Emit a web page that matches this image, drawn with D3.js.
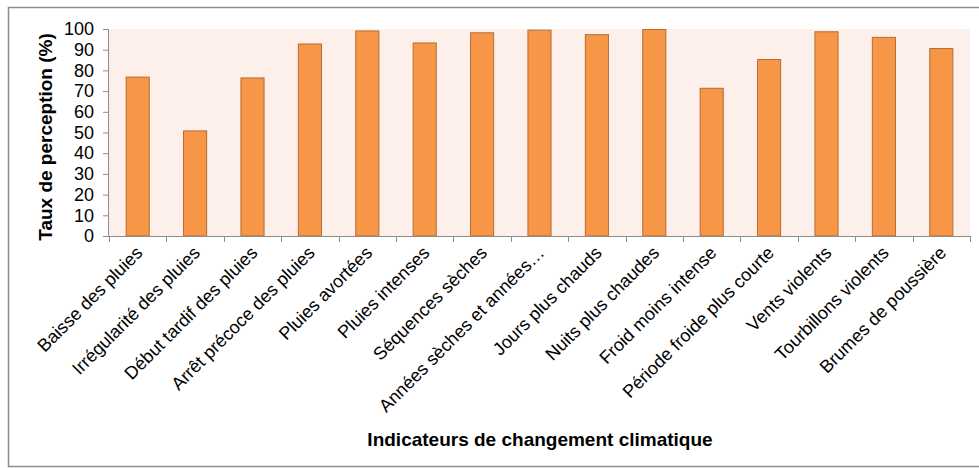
<!DOCTYPE html>
<html>
<head>
<meta charset="utf-8">
<script src="https://cdn.jsdelivr.net/npm/d3@7"></script>
<style>
  html, body { margin: 0; padding: 0; background: #fff; }
  svg { display: block; font-family: "Liberation Sans", Arial, sans-serif; }
</style>
</head>
<body>
<svg id="chart" width="979" height="468"></svg>
<script>
const categories = [
  "Baisse des pluies", "Irrégularité des pluies", "Début tardif des pluies",
  "Arrêt précoce des pluies", "Pluies avortées", "Pluies intenses",
  "Séquences sèches", "Années sèches et années…", "Jours plus chauds",
  "Nuits plus chaudes", "Froid moins intense", "Période froide plus courte",
  "Vents violents", "Tourbillons violents", "Brumes de poussière"
];
const values = [77, 51, 76.6, 93, 99.3, 93.5, 98.4, 99.7, 97.5, 100, 71.6, 85.5, 98.9, 96.2, 90.8];
const yTicks = [0, 10, 20, 30, 40, 50, 60, 70, 80, 90, 100];
const yTitle = "Taux de perception (%)";
const xTitle = "Indicateurs de changement climatique";

const svg = d3.select("#chart");
const W = 979, H = 468;
const m = { left: 109, right: 9, top: 29, bottom: 232 };
const plotW = W - m.left - m.right;
const plotH = H - m.top - m.bottom;

// outer border
svg.append("rect")
  .attr("x", 8.5).attr("y", 7.5)
  .attr("width", 978).attr("height", 459)
  .attr("fill", "none").attr("stroke", "#8c8c8c").attr("stroke-width", 1.5);

const g = svg.append("g").attr("transform", `translate(${m.left},${m.top})`);

const x = d3.scaleBand().domain(categories).range([0, plotW]).paddingInner(0.58).paddingOuter(0.29);
const y = d3.scaleLinear().domain([0, 100]).range([plotH, 0]);

// plot background
g.append("rect").attr("x", 0).attr("y", 0).attr("width", plotW).attr("height", plotH)
  .attr("fill", "#fdefe9");

// bars
g.selectAll("rect.bar").data(values).enter().append("rect")
  .attr("class", "bar")
  .attr("x", (d, i) => x(categories[i]) + 0.5)
  .attr("y", d => y(d) + 0.5)
  .attr("width", x.bandwidth() - 1)
  .attr("height", d => plotH - y(d) - 0.5)
  .attr("fill", "#f79646")
  .attr("stroke", "#b56d35")
  .attr("stroke-width", 1);

// y axis
const yAxis = g.append("g").call(d3.axisLeft(y).tickValues(yTicks).tickSize(6).tickPadding(9));
yAxis.select(".domain").attr("stroke", "#8c8c8c").attr("d", `M-0.5,${plotH}V0`);
yAxis.selectAll(".tick line").attr("stroke", "#8c8c8c");
yAxis.selectAll(".tick text").attr("font-size", 18).attr("fill", "#000")
  .attr("font-family", "'Liberation Sans', Arial, sans-serif");

// x axis: baseline + ticks at band boundaries
const xAxisG = g.append("g").attr("transform", `translate(0,${plotH})`);
xAxisG.append("line").attr("x1", 0).attr("x2", plotW).attr("y1", 0.5).attr("y2", 0.5)
  .attr("stroke", "#8c8c8c");
const step = x.step();
const bounds = d3.range(categories.length + 1).map(i => x(categories[0]) - x.paddingOuter() * step + i * step);
xAxisG.selectAll("line.tk").data(bounds).enter().append("line")
  .attr("class", "tk")
  .attr("x1", d => Math.round(d) + 0.5).attr("x2", d => Math.round(d) + 0.5)
  .attr("y1", 0).attr("y2", 6)
  .attr("stroke", "#8c8c8c");

// x labels rotated -45
xAxisG.selectAll("text.lbl").data(categories).enter().append("text")
  .attr("class", "lbl")
  .attr("transform", d => `translate(${x(d) + x.bandwidth() / 2 + 6},${18}) rotate(-45)`)
  .attr("text-anchor", "end")
  .attr("font-size", 18)
  .attr("fill", "#000")
  .text(d => d);

// axis titles
svg.append("text")
  .attr("transform", `translate(52,137) rotate(-90)`)
  .attr("text-anchor", "middle")
  .attr("font-size", 19).attr("font-weight", "bold").attr("fill", "#000")
  .text(yTitle);

svg.append("text")
  .attr("x", 540).attr("y", 446)
  .attr("text-anchor", "middle")
  .attr("font-size", 19).attr("font-weight", "bold").attr("fill", "#000")
  .text(xTitle);
</script>
</body>
</html>
